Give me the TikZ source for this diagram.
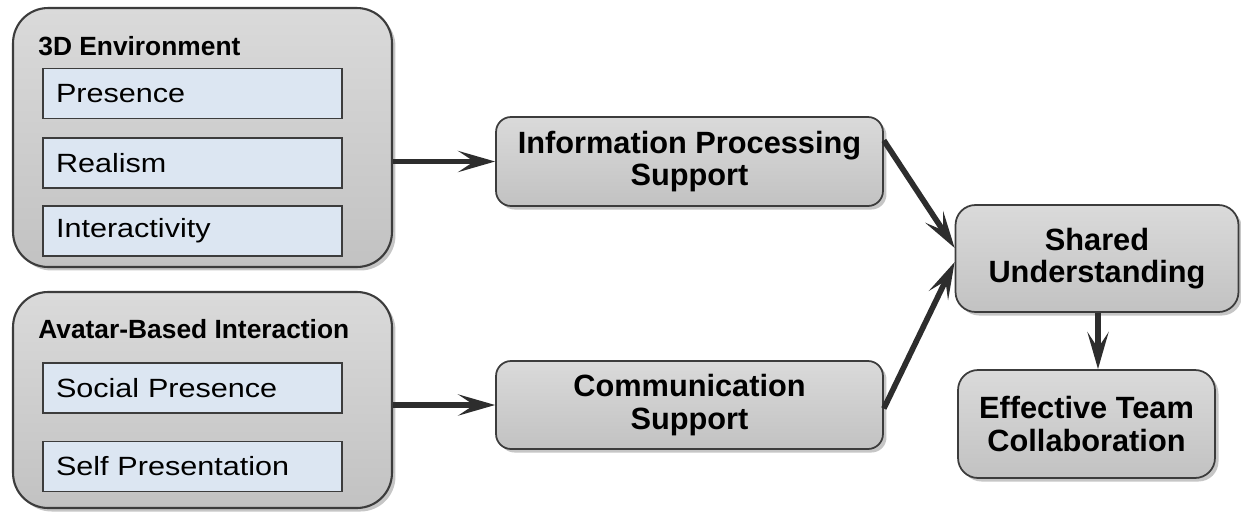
\documentclass[tikz,border=0pt]{standalone}
\usepackage{fontspec}
\setmainfont{Liberation Sans}
\newfontfamily\itemfont{Liberation Sans}[FakeStretch=1.16]
\usetikzlibrary{arrows.meta,shadows}

\definecolor{boxtop}{RGB}{218,218,218}
\definecolor{boxbottom}{RGB}{194,194,194}
\definecolor{itemblue}{RGB}{220,230,242}
\definecolor{edgegray}{RGB}{60,60,60}
\definecolor{arrowgray}{RGB}{45,45,45}

\tikzset{
	group/.style={draw=edgegray, line width=1.2pt, rounded corners=0.7cm,
		top color=boxtop, bottom color=boxbottom,
		drop shadow={shadow xshift=2pt, shadow yshift=-2pt, opacity=0.45},
		minimum width=7.58cm, inner sep=0pt},
	grouptitle/.style={anchor=base west, inner sep=0pt, font=\bfseries\fontsize{15}{16}\selectfont},
	item/.style={draw=edgegray, line width=0.8pt, fill=itemblue,
		minimum width=5.98cm, minimum height=1cm, inner xsep=0.26cm, inner ysep=0pt,
		text width=5.46cm, align=left, font=\itemfont\fontsize{15}{16}\selectfont},
	block/.style={draw=edgegray, line width=1pt, rounded corners=0.3cm,
		top color=boxtop, bottom color=boxbottom,
		drop shadow={shadow xshift=2pt, shadow yshift=-2pt, opacity=0.45},
		align=center, inner sep=0pt, text=black,
		font=\bfseries\fontsize{17.5}{18.6}\selectfont},
	flow/.style={draw=arrowgray, line width=3.2pt,
		-{Stealth[length=21pt, width=12pt, inset=9pt]}}
}

\begin{document}
\begin{tikzpicture}[x=0.02cm, y=-0.02cm]
	\useasboundingbox (0,0) rectangle (1241,518);

	% left column: the two groups with their items
	\node[group, minimum height=5.18cm] (env) at (202.5,137.5) {};
	\node[grouptitle] (envtitle) at (38,55) {3D Environment};
	\node[item] (presence) at (192.5,93.5) {Presence};
	\node[item] (realism) at (192.5,163) {Realism};
	\node[item] (interact) at (192.5,231) {Interactivity};

	\node[group, minimum height=4.32cm] (avatar) at (202.5,400) {};
	\node[grouptitle] (avatartitle) at (38,338) {Avatar-Based Interaction};
	\node[item] (social) at (192.5,388) {Social Presence};
	\node[item] (selfpres) at (192.5,466.5) {Self Presentation};

	% support blocks
	\node[block, minimum width=7.74cm, minimum height=1.78cm] (info) at (689.5,161.5) {Information Processing\\Support};
	\node[block, minimum width=7.74cm, minimum height=1.76cm] (comm) at (689.5,405) {Communication\\Support};

	% outcomes
	\node[block, minimum width=5.66cm, minimum height=2.14cm, rounded corners=0.4cm] (shared) at (1097,258.5) {Shared\\Understanding};
	\node[block, minimum width=5.14cm, minimum height=2.16cm, rounded corners=0.4cm] (team) at (1086.5,424) {Effective Team\\Collaboration};

	% arrows
	\draw[flow] (info.west -| env.east) -- (info.west);
	\draw[flow] (comm.west -| avatar.east) -- (comm.west);
	\draw[flow] ([yshift=12pt]info.east) -- ([yshift=6pt]shared.west);
	\draw[flow] ([yshift=-2pt]comm.east) -- ([yshift=-2pt]shared.west);
	\draw[flow] (shared.south -| 1098,0) -- (team.north -| 1098,0);
\end{tikzpicture}
\end{document}
